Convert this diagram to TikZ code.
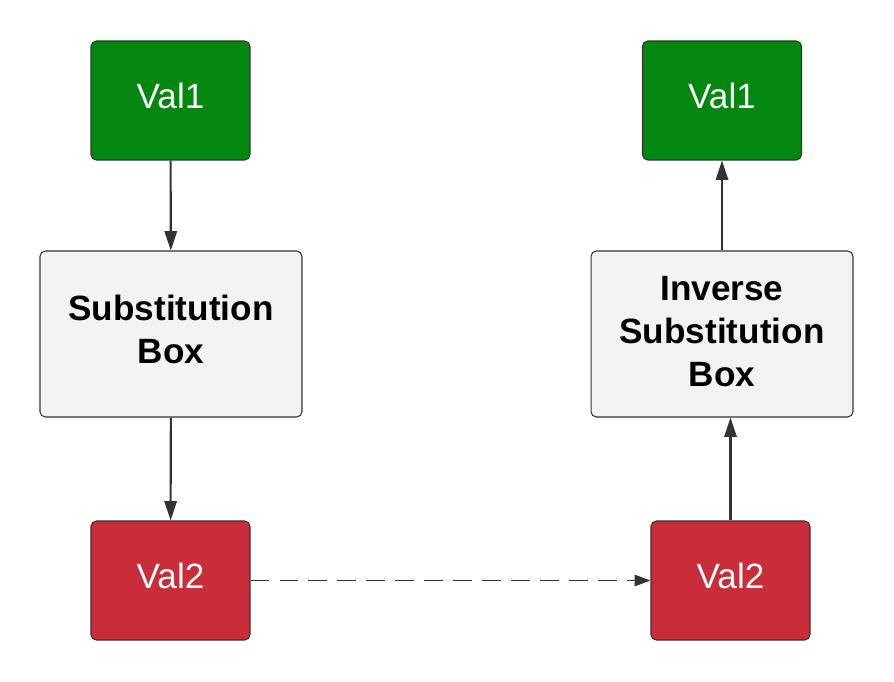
\documentclass[tikz,border=0pt]{standalone}
\usepackage{fontspec}
\setmainfont{Liberation Sans}
\usepackage{xcolor}
\usetikzlibrary{arrows.meta, calc}
\definecolor{valgreen}{RGB}{4,135,16}
\definecolor{valred}{RGB}{201,45,57}
\definecolor{boxgray}{RGB}{242,243,245}
\definecolor{edgegray}{RGB}{51,51,51}
\begin{document}
\begin{tikzpicture}[x=0.02cm, y=-0.02cm,
  every node/.style={draw=edgegray, line width=0.6pt, rounded corners=3pt, inner sep=0pt, align=center,
    text depth=5.6pt, font=\fontsize{20}{24.5}\selectfont},
  valbox/.style={minimum width=3.18cm, minimum height=2.38cm, text=white},
  sbox/.style={fill=boxgray, minimum width=5.24cm, minimum height=3.32cm, font=\fontsize{20}{24.5}\selectfont\bfseries},
  flow/.style={draw=edgegray, line width=1.2pt, -{Triangle[length=11pt, width=7pt]}},
  swap/.style={draw=edgegray, line width=0.8pt, dash pattern=on 10.8pt off 5.7pt, -{Triangle[length=9pt, width=6.5pt]}}]
  \useasboundingbox (0, 0) rectangle (894, 681);
  \node[valbox, fill=valgreen] (lval1) at (170.5, 100.5) {Val1};
  \node[sbox] (lsub) at (171, 334) {Substitution\\Box};
  \node[valbox, fill=valred] (lval2) at (170.5, 580.5) {Val2};
  % Inverse side
  \node[valbox, fill=valgreen] (rval1) at (722, 100.5) {Val1};
  \node[sbox, text depth=3.4pt] (rsub) at (722, 334) {Inverse\\Substitution\\Box};
  \node[valbox, fill=valred] (rval2) at (730.5, 580.5) {Val2};
  %
  % Edges:
  \draw[flow] (lval1) -- (lsub);
  \draw[flow] (lsub) -- (lval2);
  \draw[swap] (lval2) -- (rval2);
  \draw[flow] (rval2) -- (rval2 |- rsub.south);
  \draw[flow] (rsub) -- (rval1);
\end{tikzpicture}
\end{document}
